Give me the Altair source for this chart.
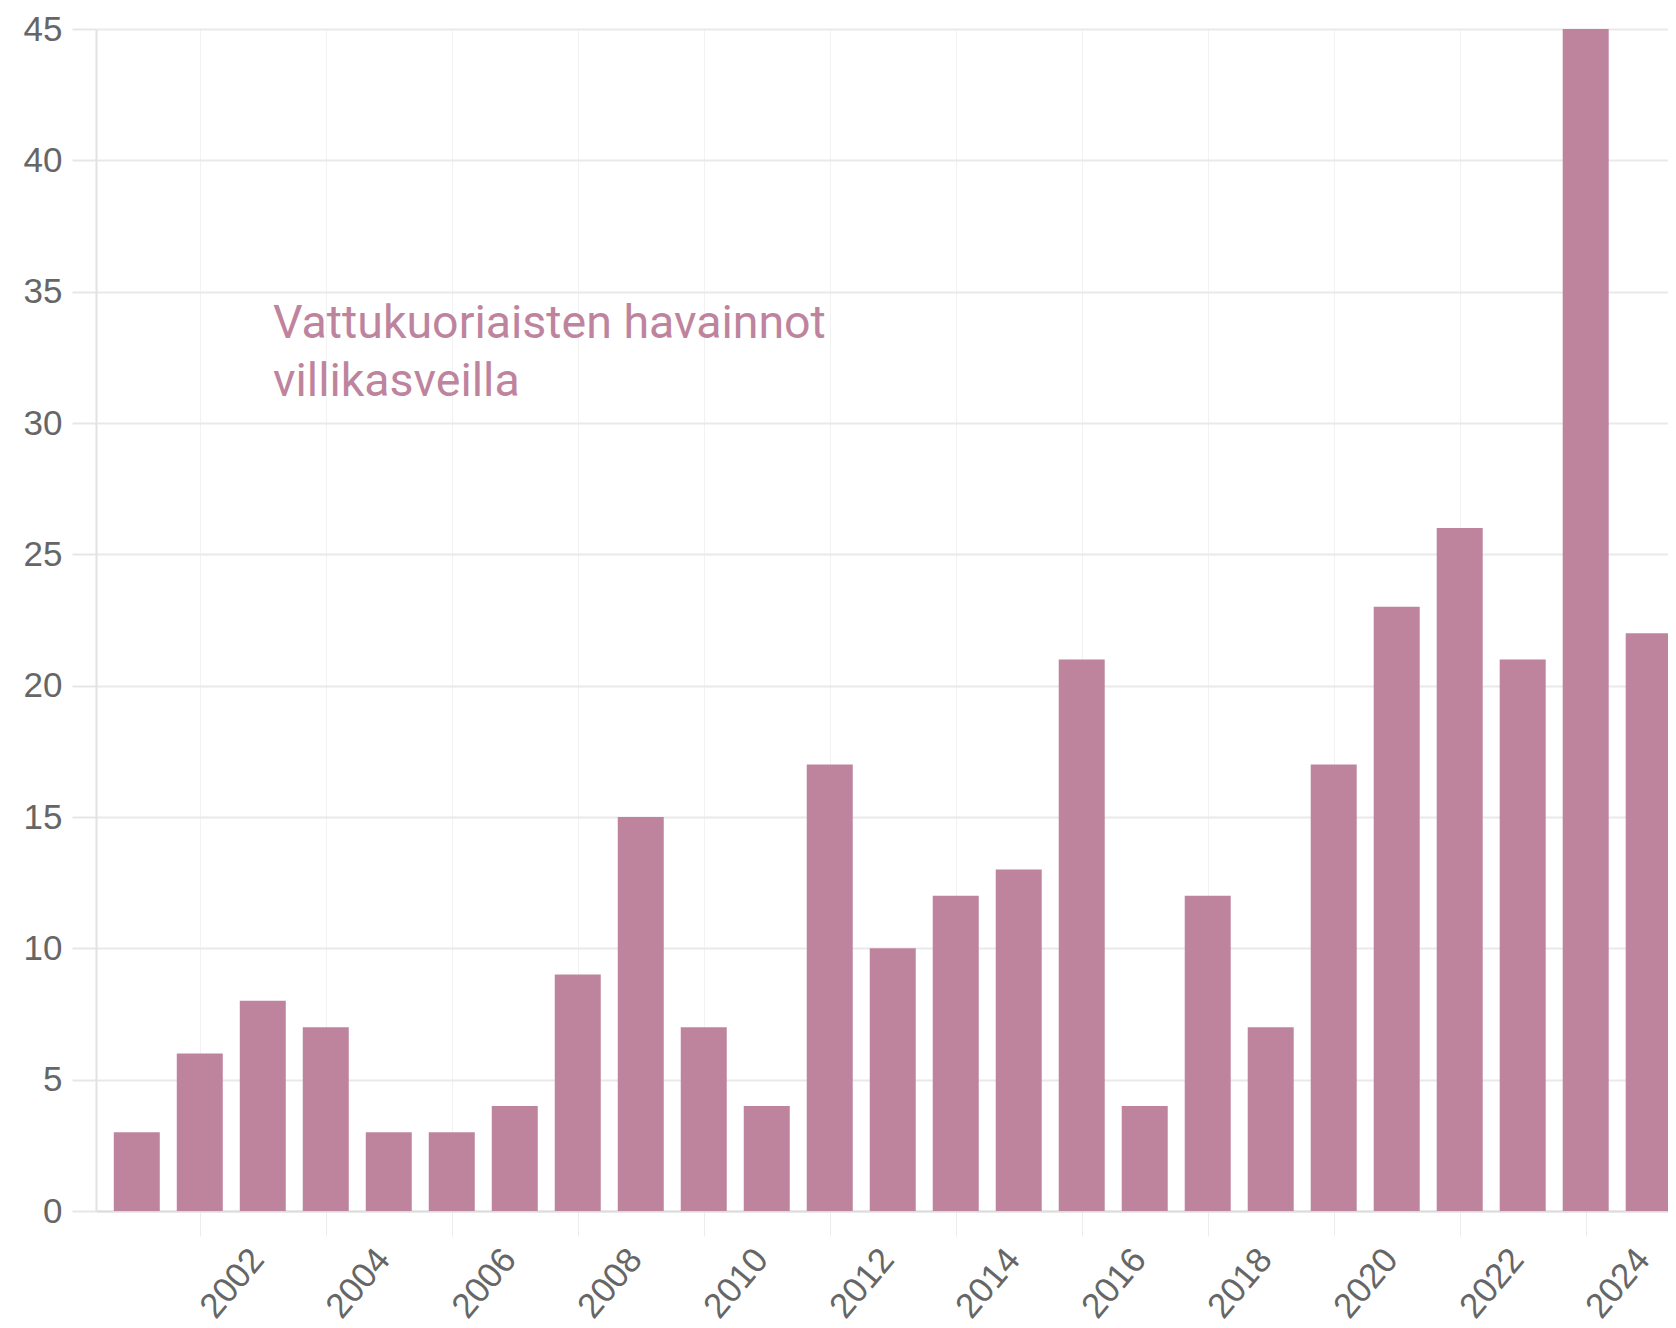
import altair as alt
import pandas as pd

years = list(range(2000, 2025))
counts = [3, 6, 8, 7, 3, 3, 4, 9, 15, 7, 4, 17, 10, 12, 13, 21, 4, 12, 7, 17, 23, 26, 21, 45, 22]
title_lines = ["Vattukuoriaisten havainnot", "villikasveilla"]
y_ticks = list(range(0, 50, 5))
x_ticks = list(range(2001, 2025))

BAR = "#be849e"
df = pd.DataFrame({"year": years, "count": counts})

bars = alt.Chart(df).mark_bar(size=46, color=BAR, clip=True).encode(
    x=alt.X(
        "year:Q",
        scale=alt.Scale(domain=[1999.432, 2024.227], nice=False, zero=False),
        axis=alt.Axis(
            values=x_ticks,
            title=None,
            labelExpr="datum.value % 2 == 0 ? datum.label : ''",
            format="d",
            labelAngle=-50,
            labelAlign="right",
            labelBaseline="middle",
            labelFontSize=35,
            labelFont="Liberation Sans",
            labelColor="#666666",
            labelPadding=17,
            labelOffset=-6,
            labelOverlap=False,
            labelBound=False,
            tickSize=25,
            tickColor="#ececec",
            tickOpacity={"condition": {"test": "datum.value % 2 == 1", "value": 1}, "value": 0},
            grid=True,
            gridColor="#f2f2f2",
            gridOpacity={"condition": {"test": "datum.value % 2 == 1", "value": 1}, "value": 0},
            domainColor="#dcdcdc",
            domainWidth=2,
        ),
    ),
    y=alt.Y(
        "count:Q",
        scale=alt.Scale(domain=[0, 45], nice=False),
        axis=alt.Axis(
            values=y_ticks,
            title=None,
            labelFontSize=35,
            labelFont="Liberation Sans",
            labelColor="#666666",
            labelPadding=10,
            tickSize=24,
            tickColor="#e6e6e6",
            tickWidth=2,
            gridColor="#e9e9e9",
            gridWidth=2,
            domainColor="#e2e2e2",
            domainWidth=2,
        ),
    ),
)

tdf = pd.DataFrame({"line": title_lines, "i": [0, 1]})
text = alt.Chart(tdf).mark_text(
    align="left", baseline="alphabetic", font="Roboto", fontSize=46.5, color=BAR
).encode(
    text="line:N",
    x=alt.value(177),
    y=alt.Y("i:Q", scale=alt.Scale(domain=[0, 1], range=[309, 367]), axis=None),
)

chart = alt.layer(bars, text).resolve_scale(y="independent").properties(
    width=1572,
    height=1182,
    autosize=alt.AutoSizeParams(type="none"),
    padding={"left": 88, "top": 21, "right": 0, "bottom": 109},
).configure_view(stroke=None)

chart.save("out.html", embed_options={"renderer": "svg", "actions": False})
